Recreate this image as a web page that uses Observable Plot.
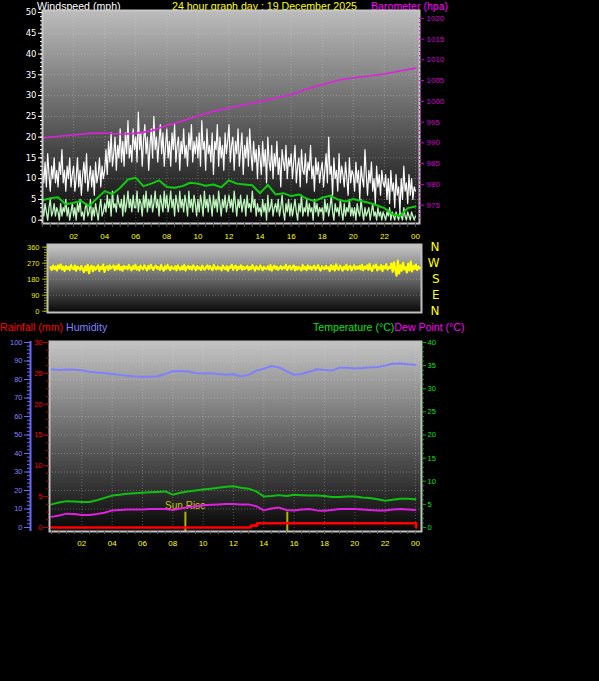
<!DOCTYPE html>
<html><head><meta charset="utf-8">
<script src="https://cdn.jsdelivr.net/npm/d3@7"></script>
<script src="https://cdn.jsdelivr.net/npm/@observablehq/plot@0.6"></script>
<style>
html,body{margin:0;padding:0;background:#000;}
#wrap{position:relative;width:599px;height:681px;background:#000;overflow:hidden;font-family:"Liberation Sans",Arial,sans-serif;}
#wrap svg{position:absolute;left:0;top:0;}
.t{position:absolute;font-size:10.6px;line-height:1;white-space:nowrap;}
</style></head><body>
<div id="wrap">
  <div class="t" style="left:37px;top:0.5px;color:#ffffff">Windspeed (mph)</div>
  <div class="t" style="left:172px;top:0.5px;color:#ffff00">24 hour graph day : 19 December 2025</div>
  <div class="t" style="left:371px;top:0.5px;color:#ff00ff">Barometer (hpa)</div>
  <div class="t" style="left:0px;top:322px;color:#ff0000">Rainfall (mm)</div>
  <div class="t" style="left:66px;top:322px;color:#8080ff">Humidity</div>
  <div class="t" style="left:313px;top:322px;color:#10e010">Temperature (°C)<span style="color:#ff00ff">Dew Point (°C)</span></div>
</div>
<script>
// ---------- data ----------
const xTickHours = [2, 4, 6, 8, 10, 12, 14, 16, 18, 20, 22, 24];
const windTicks = [0, 5, 10, 15, 20, 25, 30, 35, 40, 45, 50];
const baroTicks = [975, 980, 985, 990, 995, 1000, 1005, 1010, 1015, 1020];
const dirTicks = [0, 90, 180, 270, 360];
const dirLetters = ["E", "S", "W", "N", "N"];
const dirLetterDeg = [90, 180, 270, 360, 0];
const humTicks = [0, 10, 20, 30, 40, 50, 60, 70, 80, 90, 100];
const rainTicks = [0, 5, 10, 15, 20, 25, 30];
const tempTicks = [0, 5, 10, 15, 20, 25, 30, 35, 40];

// wind gust (mph), every 5 minutes 00:00-24:00
const gustMph = [
 12, 9, 14, 8, 16, 11, 7, 13, 10, 15, 9, 12, 8, 14, 11, 17, 9, 12, 7, 13, 10, 15, 8, 11,
 13, 7, 10, 15, 8, 12, 6, 11, 14, 9, 16, 7, 10, 13, 8, 12, 6, 14, 9, 11, 15, 8, 13, 10,
 12, 17, 11, 19, 14, 21, 13, 16, 20, 12, 18, 15, 22, 14, 19, 13, 21, 16, 24, 15, 18, 14, 22, 17,
 20, 14, 26, 17, 21, 13, 19, 23, 16, 20, 12, 18, 22, 15, 25, 17, 20, 14, 19, 23, 16, 21, 13, 18,
 22, 15, 19, 13, 21, 17, 23, 14, 18, 20, 12, 19, 16, 22, 15, 18, 13, 21, 17, 23, 14, 19, 16, 20,
 15, 21, 13, 24, 17, 19, 12, 22, 16, 18, 14, 21, 11, 19, 17, 23, 13, 20, 15, 18, 12, 21, 16, 19,
 23, 14, 18, 20, 12, 19, 16, 22, 13, 17, 21, 11, 18, 15, 20, 13, 22, 16, 12, 19, 14, 17, 10, 18,
 15, 11, 19, 13, 17, 9, 20, 14, 12, 18, 10, 16, 13, 19, 11, 15, 8, 17, 14, 12, 18, 10, 15, 13,
 16, 10, 14, 18, 9, 13, 15, 8, 17, 12, 11, 16, 9, 14, 12, 18, 10, 13, 7, 15, 11, 14, 9, 12,
 14, 8, 12, 16, 9, 20, 11, 13, 6, 15, 10, 12, 7, 16, 9, 13, 11, 8, 14, 10, 6, 15, 9, 12,
 11, 7, 14, 9, 12, 5, 13, 10, 8, 17, 11, 6, 12, 9, 14, 7, 10, 4, 13, 8, 11, 6, 12, 9,
 8, 11, 5, 10, 4, 12, 7, 9, 3, 11, 6, 8, 2, 10, 5, 13, 7, 9, 4, 11, 6, 10, 5, 8, 7];
// wind speed (mph), every 5 minutes
const windMph = [
 3, 1, 4, 2, 0, 3, 5, 1, 2, 4, 1, 3, 2, 0, 4, 1, 3, 2, 5, 1, 3, 0, 2, 4,
 1, 3, 0, 4, 2, 5, 1, 2, 0, 3, 4, 1, 2, 5, 0, 3, 1, 4, 2, 0, 3, 5, 1, 2,
 4, 2, 6, 3, 5, 1, 7, 3, 4, 2, 6, 4, 3, 5, 1, 6, 2, 4, 7, 3, 5, 2, 6, 3,
 3, 7, 2, 5, 4, 1, 6, 3, 7, 2, 5, 3, 6, 2, 4, 7, 3, 5, 1, 6, 4, 2, 7, 3,
 6, 2, 4, 7, 3, 5, 1, 6, 4, 2, 7, 3, 5, 2, 6, 4, 1, 7, 3, 5, 2, 6, 4, 1,
 5, 2, 6, 4, 1, 7, 3, 5, 2, 6, 4, 1, 6, 3, 5, 2, 7, 4, 1, 5, 3, 6, 2, 4,
 6, 3, 5, 2, 7, 4, 1, 5, 3, 6, 2, 4, 5, 1, 6, 3, 4, 2, 7, 3, 5, 1, 4, 2,
 3, 1, 5, 2, 4, 0, 6, 2, 3, 5, 1, 3, 4, 2, 5, 1, 3, 6, 2, 0, 4, 2, 5, 1,
 4, 1, 3, 5, 2, 0, 4, 2, 6, 1, 3, 2, 5, 1, 4, 2, 3, 0, 5, 2, 4, 1, 3, 2,
 3, 0, 5, 2, 4, 1, 3, 6, 2, 0, 4, 2, 3, 1, 5, 2, 0, 4, 1, 3, 2, 5, 1, 3,
 1, 3, 0, 4, 2, 1, 5, 2, 0, 3, 1, 2, 3, 0, 2, 4, 1, 2, 0, 3, 1, 2, 0, 2,
 1, 0, 2, 1, 3, 0, 2, 1, 0, 2, 1, 0, 2, 1, 0, 3, 1, 0, 2, 1, 0, 2, 1, 0, 1];
// average wind speed (mph), every 30 minutes
const avgWindMph = [4.8, 5.3, 5.5, 3.8, 4.2, 4.6, 3.4, 5.2, 7.0, 6.3,
 7.8, 9.8, 10.2, 8.2, 8.8, 9.6, 8.0, 7.8, 8.2, 9.0,
 8.8, 8.3, 8.6, 7.9, 9.6, 8.8, 8.6, 8.4, 6.5, 8.5,
 6.2, 6.5, 5.8, 6.2, 5.2, 4.6, 5.4, 5.9, 5.0, 4.5,
 5.1, 4.6, 4.2, 3.6, 2.9, 1.5, 1.0, 2.9, 3.3];
// barometer (hPa), hourly
const baroHpa = [991.2, 991.6, 991.9, 992.3, 992.4, 992.1, 992.3, 992.9, 994.2, 995.3,
 996.5, 997.6, 998.4, 999.2, 1000.0, 1000.8, 1001.6, 1003.0, 1004.0, 1005.1,
 1005.7, 1006.1, 1006.6, 1007.3, 1008.0];
// wind direction (deg), every 5 minutes
const windDirDeg = [
 248, 232, 256, 238, 252, 229, 258, 241, 262, 235, 250, 226, 254, 237, 249, 231, 259, 242, 236, 257, 228, 251, 244, 233,
 255, 236, 220, 252, 230, 260, 214, 247, 256, 225, 251, 234, 243, 258, 227, 249, 238, 262, 221, 246, 253, 232, 257, 240,
 246, 257, 231, 252, 237, 262, 233, 249, 228, 255, 240, 251, 236, 259, 242, 230, 254, 238, 261, 234, 248, 229, 256, 243,
 236, 258, 242, 230, 255, 238, 261, 244, 232, 250, 256, 239, 247, 233, 259, 241, 228, 253, 237, 260, 245, 231, 252, 240,
 237, 253, 230, 257, 241, 233, 252, 236, 260, 229, 246, 255, 238, 250, 234, 258, 243, 231, 254, 239, 247, 232, 256, 241,
 234, 249, 258, 237, 254, 240, 231, 259, 243, 235, 252, 239, 246, 230, 257, 242, 236, 253, 228, 250, 244, 261, 233, 248,
 256, 231, 249, 240, 258, 233, 251, 238, 245, 255, 232, 248, 237, 259, 242, 229, 253, 240, 235, 257, 244, 231, 250, 239,
 238, 253, 234, 259, 229, 246, 256, 237, 251, 233, 244, 254, 236, 249, 241, 260, 232, 247, 255, 235, 243, 258, 230, 250,
 235, 250, 241, 230, 260, 237, 249, 231, 257, 239, 252, 234, 246, 256, 233, 244, 259, 238, 229, 253, 242, 236, 255, 240,
 247, 226, 259, 236, 253, 229, 263, 240, 233, 256, 245, 228, 251, 238, 261, 232, 248, 255, 230, 243, 258, 235, 250, 239,
 254, 235, 261, 231, 250, 240, 258, 233, 265, 238, 227, 256, 244, 262, 230, 249, 237, 259, 226, 253, 241, 264, 234, 247,
 242, 268, 222, 275, 236, 200, 285, 212, 258, 228, 272, 235, 248, 218, 266, 230, 279, 224, 255, 238, 262, 232, 251, 240, 246];
// temperature, dew point (°C), humidity (%), every 30 minutes
const tempC = [5.0, 5.4, 5.7, 5.6, 5.5, 5.5, 5.9, 6.4, 6.9, 7.1,
 7.3, 7.4, 7.5, 7.6, 7.7, 7.8, 7.1, 7.5, 7.8, 8.0,
 8.2, 8.4, 8.6, 8.8, 8.9, 8.6, 8.4, 7.8, 6.7, 6.8,
 7.0, 6.8, 7.1, 7.0, 6.9, 6.9, 6.8, 6.6, 6.6, 6.7,
 6.7, 6.5, 6.4, 6.1, 5.8, 6.0, 6.2, 6.2, 6.1];
const dewC = [2.3, 2.6, 3.0, 2.9, 2.7, 2.7, 2.9, 3.2, 3.7, 3.8,
 3.9, 3.9, 3.9, 4.0, 4.0, 4.0, 3.8, 4.1, 4.4, 4.6,
 4.8, 4.9, 5.0, 5.1, 5.1, 5.0, 5.0, 4.6, 3.7, 4.1,
 4.3, 3.8, 3.7, 3.9, 4.0, 3.7, 3.6, 3.8, 4.0, 4.0,
 4.0, 3.9, 3.8, 3.7, 3.7, 3.9, 4.0, 3.9, 3.8];
const humidityPct = [85.5, 85.2, 85.4, 85.3, 85.0, 84.2, 83.8, 83.5, 83.0, 82.5,
 82.0, 81.6, 81.5, 81.5, 81.8, 83.0, 84.5, 84.6, 84.3, 83.5,
 83.2, 83.4, 83.0, 82.6, 82.8, 81.8, 82.5, 84.8, 85.8, 87.3,
 86.5, 84.5, 82.5, 83.0, 84.2, 85.5, 85.2, 84.8, 86.4, 86.3,
 86.0, 86.2, 86.5, 86.8, 87.5, 88.5, 88.6, 88.2, 88.0];
// rainfall (mm) step changes
const rainHour = [0, 13.15, 13.55, 24.05];
const rainMm = [0, 0.3, 0.7, 0];
// sun events (hour)
const sunEvents = [{hour: 8.83, label: "Sun Rise"}, {hour: 15.55, label: ""}];

// ---------- helpers ----------
const W = 599, H = 681;
const BARO_OFFSET = 971.4;
const TEMP_K = 100 / 40, RAIN_K = 100 / 30;
const over24 = arr => (d, i) => i * 24 / (arr.length - 1);
const hourLabel = h => String(h % 24).padStart(2, "0");
const halfHours = d3.range(0, 24.01, 0.5);
const svgStyle = {background: "transparent", overflow: "visible", fontFamily: "Liberation Sans, Arial, sans-serif", fontSize: "8px"};
const wrap = document.getElementById("wrap");

function addGradient(svg, id, stops) {
  const g = d3.select(svg).insert("defs", ":first-child").append("linearGradient")
    .attr("id", id).attr("x1", 0).attr("y1", 0).attr("x2", 0).attr("y2", 1);
  stops.forEach(([o, c]) => g.append("stop").attr("offset", o).attr("stop-color", c));
}
const gridStyle = {stroke: "#e0e0e0", strokeOpacity: 0.3, strokeDasharray: "1,2"};

// ---------- top: wind + barometer ----------
const topPlot = Plot.plot({
  width: W, height: H, style: svgStyle,
  marginLeft: 42, marginRight: 180, marginTop: 10, marginBottom: H - 223,
  x: {domain: [0, 24.26], axis: null},
  y: {domain: [-0.8, 50.48], axis: null},
  marks: [
    Plot.frame({fill: "url(#gTop)", stroke: "none"}),
    Plot.ruleY(windTicks.slice(1, -1), gridStyle),
    Plot.ruleX(xTickHours, gridStyle),
    Plot.line(gustMph, {x: over24(gustMph), y: d => d, stroke: "#ffffff", strokeWidth: 1.2}),
    Plot.line(windMph, {x: over24(windMph), y: d => d, stroke: "#bdf5bd", strokeWidth: 1.3}),
    Plot.line(avgWindMph, {x: over24(avgWindMph), y: d => d, stroke: "#10cc10", strokeWidth: 2}),
    Plot.line(baroHpa, {x: over24(baroHpa), y: d => d - BARO_OFFSET, stroke: "#e020e0", strokeWidth: 1.6}),
    Plot.frame({stroke: "#c8c8c8", strokeWidth: 2}),
    Plot.axisY({ticks: windTicks, tickSize: 4, tickPadding: 2, stroke: "#ffffff", fill: "#ffffff", fontSize: 8.5, fontFamily: "DejaVu Sans", label: null}),
    Plot.axisY({ticks: d3.range(0, 51), tickSize: 2, stroke: "#ffffff", fill: "none", label: null}),
    Plot.axisY({anchor: "right", ticks: baroTicks.map(b => b - BARO_OFFSET), tickFormat: d => String(Math.round(d + BARO_OFFSET)), tickSize: 4, tickPadding: 3, stroke: "#d000d0", fill: "#d000d0", fontSize: 8, label: null}),
    Plot.axisY({anchor: "right", ticks: d3.range(972, 1021).map(b => b - BARO_OFFSET), tickSize: 2, dx: -1, stroke: "#d000d0", fill: "none", label: null}),
    Plot.axisX({ticks: xTickHours, tickSize: 0, tickPadding: 10, tickFormat: hourLabel, fill: "#ffff00", stroke: "none", fontSize: 8, label: null}),
    Plot.axisX({ticks: halfHours, tickSize: 4, stroke: "#555555", fill: "none", label: null})
  ]
});
addGradient(topPlot, "gTop", [[0, "#bcbcbc"], [1, "#080808"]]);
wrap.appendChild(topPlot);

// ---------- middle: wind direction ----------
const midPlot = Plot.plot({
  width: W, height: H, style: svgStyle,
  marginLeft: 47, marginRight: 178, marginTop: 244, marginBottom: H - 312,
  x: {domain: [-0.19, 24.03], axis: null},
  y: {domain: [-7.2, 375], axis: null},
  marks: [
    Plot.frame({fill: "url(#gMid)", stroke: "none"}),
    Plot.ruleY([90, 180, 270], gridStyle),
    Plot.line(windDirDeg, {x: over24(windDirDeg), y: d => d, stroke: "#ffff00", strokeWidth: 2.2}),
    Plot.frame({stroke: "#c0c0c0", strokeWidth: 2}),
    Plot.axisY({ticks: dirTicks, tickSize: 5, tickPadding: 3, stroke: "#a0a000", fill: "#e8e800", fontSize: 7.5, label: null}),
    Plot.axisY({ticks: d3.range(0, 361, 15), tickSize: 3, stroke: "#a0a000", fill: "none", label: null}),
    Plot.text(dirLetters, {y: (d, i) => dirLetterDeg[i], text: d => d, frameAnchor: "right", dx: 18, fill: "#ffff00", fontSize: 12, fontFamily: "DejaVu Sans"})
  ]
});
addGradient(midPlot, "gMid", [[0, "#c8c8c8"], [1, "#080808"]]);
wrap.appendChild(midPlot);

// ---------- bottom: rain, humidity, temperature, dew point ----------
const xDomB = [-0.13, 24.4], yDomB = [-2.16, 100.54];
const botPlot = Plot.plot({
  width: W, height: H, style: svgStyle,
  marginLeft: 49, marginRight: 178, marginTop: 341, marginBottom: H - 531,
  x: {domain: xDomB, axis: null},
  y: {domain: yDomB, axis: null},
  marks: [
    Plot.frame({fill: "url(#gBot)", stroke: "none"}),
    Plot.ruleY(humTicks.slice(1, -1), gridStyle),
    Plot.ruleX(xTickHours, gridStyle),
    Plot.ruleX(sunEvents, {x: "hour", y1: yDomB[0], y2: 8.3, stroke: "#b4b400", strokeWidth: 2}),
    Plot.text(sunEvents.filter(d => d.label), {x: "hour", text: "label", frameAnchor: "bottom", dy: -23, fill: "#c8c800", fontSize: 10}),
    Plot.line(humidityPct, {x: over24(humidityPct), y: d => d, stroke: "#8080ff", strokeWidth: 2}),
    Plot.line(tempC, {x: over24(tempC), y: d => d * TEMP_K, stroke: "#10c010", strokeWidth: 2}),
    Plot.line(dewC, {x: over24(dewC), y: d => d * TEMP_K, stroke: "#e020e0", strokeWidth: 2}),
    Plot.line(rainMm, {x: (d, i) => rainHour[i], y: d => d * RAIN_K, curve: "step-after", stroke: "#ff0000", strokeWidth: 2.6}),
    Plot.frame({stroke: "#c0c0c0", strokeWidth: 2}),
    // humidity axis
    Plot.ruleX([xDomB[0]], {dx: -19, stroke: "#6a6aff", strokeWidth: 2}),
    Plot.axisY({ticks: humTicks, tickSize: 6, tickPadding: 2, dx: -19, stroke: "#6a6aff", fill: "#8080ff", fontSize: 7.5, label: null}),
    Plot.axisY({ticks: d3.range(0, 101, 2), tickSize: 3, dx: -19, stroke: "#6a6aff", fill: "none", label: null}),
    // rain axis
    Plot.axisY({ticks: rainTicks.map(r => r * RAIN_K), tickFormat: d => String(Math.round(d / RAIN_K)), tickSize: 5, tickPadding: 1, dx: -1, stroke: "#b00000", fill: "#ff0000", fontSize: 7.5, label: null}),
    Plot.axisY({ticks: d3.range(0, 30.01, 1.25).map(r => r * RAIN_K), tickSize: 3, stroke: "#b00000", fill: "none", label: null}),
    // temperature axis
    Plot.axisY({anchor: "right", ticks: tempTicks.map(t => t * TEMP_K), tickFormat: d => String(Math.round(d / TEMP_K)), tickSize: 4, tickPadding: 2, stroke: "#10a010", fill: "#10e010", fontSize: 7.5, label: null}),
    Plot.axisY({anchor: "right", ticks: d3.range(0, 41).map(t => t * TEMP_K), tickSize: 2, stroke: "#10a010", fill: "none", label: null}),
    // time axis
    Plot.axisX({ticks: xTickHours, tickSize: 0, tickPadding: 9, tickFormat: hourLabel, fill: "#ffff00", stroke: "none", fontSize: 8, label: null}),
    Plot.axisX({ticks: halfHours, tickSize: 3, stroke: "#606060", fill: "none", label: null})
  ]
});
addGradient(botPlot, "gBot", [[0, "#c4c4c4"], [1, "#060606"]]);
wrap.appendChild(botPlot);
</script>
</body></html>
